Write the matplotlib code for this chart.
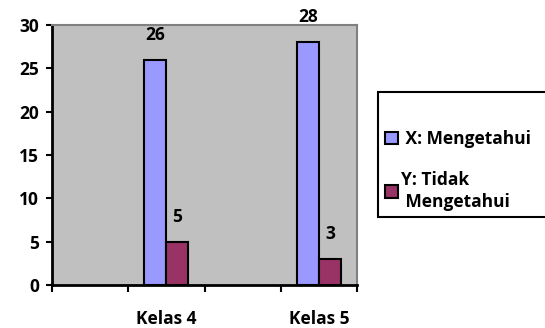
import numpy as np
import matplotlib
matplotlib.use("Agg")
import matplotlib.pyplot as plt
from matplotlib.patches import Rectangle

plt.rcParams['font.family'] = ['Open Sans', 'DejaVu Sans']
plt.rcParams['font.weight'] = 'bold'

# Category slots (blank slots separate the two classes)
categories = ["", "Kelas 4", "", "Kelas 5"]
mengetahui = [np.nan, 26, np.nan, 28]
tidak_mengetahui = [np.nan, 5, np.nan, 3]
series_labels = [" X: Mengetahui", "Y: Tidak\n Mengetahui"]
y_ticks = [0, 5, 10, 15, 20, 25, 30]

W, H = 545, 328
fig = plt.figure(figsize=(W / 100, H / 100), dpi=100)
fig.patch.set_facecolor("white")
ax = fig.add_axes([52 / W, 1 - 285 / H, (357 - 52) / W, (285 - 25) / H])
ax.set_facecolor("#C0C0C0")

x = np.arange(len(categories))
bw = 0.288
b1 = ax.bar(x - bw / 2, mengetahui, bw, color="#9999FF", edgecolor="black", linewidth=1.5, zorder=3)
b2 = ax.bar(x + bw / 2, tidak_mengetahui, bw, color="#993366", edgecolor="black", linewidth=1.5, zorder=3)

fs = 12.5
for bars, vals in ((b1, mengetahui), (b2, tidak_mengetahui)):
    for rect, v in zip(bars, vals):
        if np.isnan(v):
            continue
        ax.annotate(f"{v:g}", (rect.get_x() + rect.get_width() / 2, v),
                    xytext=(0, 18), textcoords="offset points",
                    ha="center", va="center", fontsize=fs, fontweight="bold",
                    annotation_clip=False)

ax.set_xlim(-0.5, len(categories) - 0.5)
ax.set_ylim(0, 30)
ax.set_yticks(y_ticks)
ax.set_yticklabels([str(t) for t in y_ticks], fontweight="bold")
ax.tick_params(axis="y", direction="out", length=4.5, width=1.5, labelsize=fs, pad=5)

ax.set_xticks(np.arange(len(categories) + 1) - 0.5)
ax.set_xticklabels([])
ax.set_xticks(x, minor=True)
ax.set_xticklabels(categories, minor=True, fontweight="bold")
ax.tick_params(axis="x", which="major", direction="out", length=5, width=1.5)
ax.tick_params(axis="x", which="minor", length=0, labelsize=fs, pad=18)

for s in ("left", "bottom"):
    ax.spines[s].set_color("black")
    ax.spines[s].set_linewidth(2)
for s in ("top", "right"):
    ax.spines[s].set_color("#808080")
    ax.spines[s].set_linewidth(1.5)

# legend frame
fig.patches.append(Rectangle((378 / W, 1 - 217 / H), 180 / W, 125 / H,
                             transform=fig.transFigure, facecolor="white",
                             edgecolor="black", linewidth=1.5, zorder=1))
leg = fig.legend([b1, b2], series_labels, loc="upper left",
                 bbox_to_anchor=(385 / W, 1 - 130 / H), frameon=False,
                 fontsize=fs, handlelength=0.75, handleheight=0.75,
                 handletextpad=0.2, labelspacing=1.3, borderpad=0, borderaxespad=0)
for t in leg.get_texts():
    t.set_fontweight("bold")
    t.set_linespacing(1.3)
leg.set_zorder(2)

fig.savefig("out.png", dpi=100)
